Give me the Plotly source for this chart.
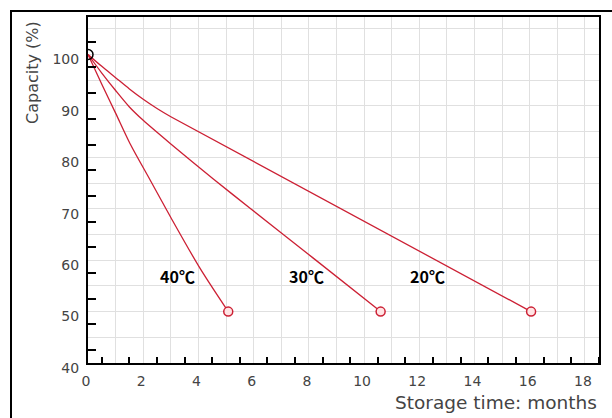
import plotly.graph_objects as go

# ---- data ----
months_20 = [0, 0.5, 1, 1.5, 2, 2.5, 3, 16.05]
capacity_20 = [100, 97.7, 95.5, 93.3, 91.3, 89.5, 87.9, 50]

months_30 = [0, 0.5, 1, 1.5, 2, 3, 4.54, 5.87, 8.16, 10.6]
capacity_30 = [100, 96.4, 93.0, 89.8, 87.2, 82.6, 75.8, 70.1, 60.4, 50]

months_40 = [0, 0.5, 1, 1.52, 2.25, 3, 4.06, 5.08]
capacity_40 = [100, 94.2, 88.6, 82.7, 75.6, 68.3, 58.4, 50]

series_labels = ["20\u2103", "30\u2103", "40\u2103"]
x_tick_values = list(range(0, 19))
x_tick_text = [str(v) if v % 2 == 0 else "" for v in x_tick_values]
y_tick_values = list(range(40, 106, 5))
y_tick_text = [str(v) if v % 10 == 0 else "" for v in y_tick_values]

# ---- figure geometry (pixels) ----
W, H = 612, 418
FRAME = 12                      # outer frame offset (left/top)
PLOT_L, PLOT_R, PLOT_T, PLOT_B = 88, 599, 17, 363
PAPER_W, PAPER_H = W - FRAME, H - FRAME


def px_x(p):
    return (p - FRAME) / PAPER_W


def px_y(p):
    return (H - p) / PAPER_H


RED = "rgb(204,32,52)"
fig = go.Figure()

for xs, ys, name in [(months_20, capacity_20, series_labels[0]),
                     (months_30, capacity_30, series_labels[1]),
                     (months_40, capacity_40, series_labels[2])]:
    fig.add_trace(go.Scatter(x=xs, y=ys, mode="lines", name=name,
                             line=dict(color=RED, width=1.3, shape="spline",
                                       smoothing=0.8),
                             showlegend=False, hoverinfo="skip"))

# end-point markers
fig.add_trace(go.Scatter(
    x=[months_20[-1], months_30[-1], months_40[-1]],
    y=[capacity_20[-1], capacity_30[-1], capacity_40[-1]],
    mode="markers",
    marker=dict(symbol="circle", size=9, color="rgba(255,228,228,1)",
                line=dict(color=RED, width=1.5)),
    showlegend=False, hoverinfo="skip"))

# start marker
fig.add_trace(go.Scatter(
    x=[months_20[0]], y=[capacity_20[0]], mode="markers",
    marker=dict(symbol="circle-open", size=10, color="black",
                line=dict(color="black", width=1.5)),
    showlegend=False, hoverinfo="skip"))

# empty trace for the outer-frame axes
fig.add_trace(go.Scatter(x=[], y=[], xaxis="x2", yaxis="y2",
                         showlegend=False, hoverinfo="skip"))

# series labels
for txt, lx in zip(series_labels, [12.3, 7.9, 3.25]):
    fig.add_annotation(x=lx, y=57, text="<b>" + txt + "</b>", showarrow=False,
                       font=dict(family="Noto Sans CJK KR", size=16, color="black"),
                       xanchor="center", yanchor="middle")

# axis titles
fig.add_annotation(x=px_x(32), y=px_y(73), xref="paper", yref="paper",
                   text="Capacity (%)", textangle=-90, showarrow=False,
                   font=dict(family="DejaVu Sans", size=16, color="#444"),
                   xanchor="center", yanchor="middle")
fig.add_annotation(x=px_x(599), y=px_y(402), xref="paper", yref="paper",
                   text="Storage time: months", showarrow=False,
                   font=dict(family="DejaVu Sans", size=18.5, color="#444"),
                   xanchor="right", yanchor="middle")

fig.update_layout(
    xaxis=dict(domain=[px_x(PLOT_L), px_x(PLOT_R)], anchor="y",
               range=[0, 18.51], tickmode="array", tickvals=x_tick_values,
               ticktext=x_tick_text, ticks="", showgrid=True,
               gridcolor="#e0e0e0", gridwidth=1.2, zeroline=False,
               showline=True, linecolor="black", linewidth=2, mirror=True,
               automargin=False,
               tickfont=dict(family="DejaVu Sans", size=14, color="#444"),
               ticklabelshift=-2, ticklabelstandoff=4,
               minor=dict(tickmode="linear", tick0=0.5, dtick=1, ticks="inside",
                          ticklen=6, tickwidth=1.5, tickcolor="black",
                          showgrid=False)),
    yaxis=dict(domain=[px_y(PLOT_B), px_y(PLOT_T)], anchor="x",
               range=[40, 107.3], tickmode="array", tickvals=y_tick_values,
               ticktext=y_tick_text, ticks="", showgrid=True,
               gridcolor="#e0e0e0", gridwidth=1.2, zeroline=False,
               showline=True, linecolor="black", linewidth=2, mirror=True,
               automargin=False,
               tickfont=dict(family="DejaVu Sans", size=14, color="#444"),
               ticklabelshift=5, ticklabelstandoff=4,
               minor=dict(tickmode="linear", tick0=42.5, dtick=5, ticks="inside",
                          ticklen=8, tickwidth=1.5, tickcolor="black",
                          showgrid=False)),
    # outer frame: left and top edges drawn as axis lines
    xaxis2=dict(domain=[0, 1], anchor="y2", side="top", range=[0, 1],
                showline=True, linecolor="black", linewidth=2,
                showticklabels=False, ticks="", showgrid=False,
                zeroline=False, automargin=False, fixedrange=True),
    yaxis2=dict(domain=[0, 1], anchor="x2", side="left", range=[0, 1],
                showline=True, linecolor="black", linewidth=2,
                showticklabels=False, ticks="", showgrid=False,
                zeroline=False, automargin=False, fixedrange=True),
    width=W, height=H, margin=dict(l=FRAME, r=0, t=FRAME, b=0),
    paper_bgcolor="white", plot_bgcolor="rgba(0,0,0,0)",
    showlegend=False)

fig.write_html("out.html", config={"displayModeBar": False},
               post_script="document.body.style.margin='0';"
                           "document.body.style.overflow='hidden';"
                           "document.documentElement.style.overflow='hidden';")
